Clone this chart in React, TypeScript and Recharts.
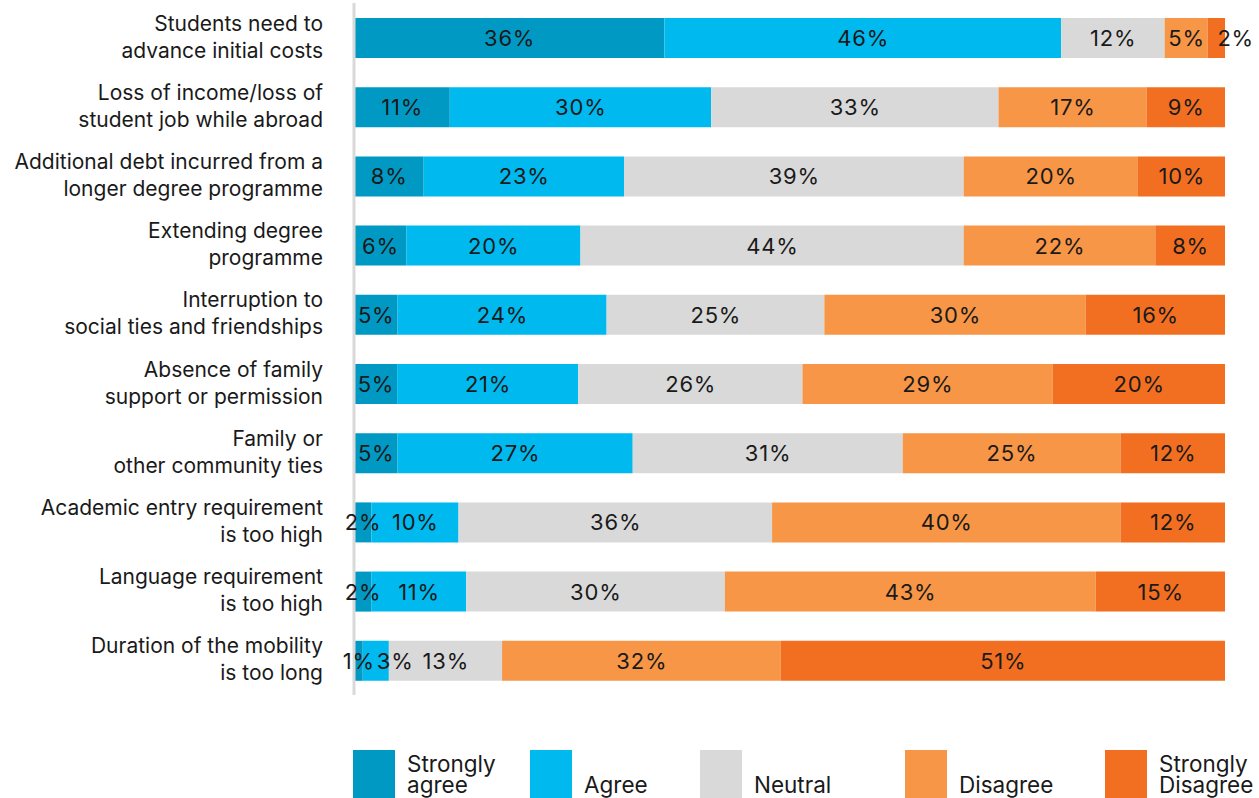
import { BarChart, Bar, XAxis, YAxis, LabelList } from 'recharts';

const categories = [
  'Students need to\nadvance initial costs',
  'Loss of income/loss of\nstudent job while abroad',
  'Additional debt incurred from a\nlonger degree programme',
  'Extending degree\nprogramme',
  'Interruption to\nsocial ties and friendships',
  'Absence of family\nsupport or permission',
  'Family or\nother community ties',
  'Academic entry requirement\nis too high',
  'Language requirement\nis too high',
  'Duration of the mobility\nis too long',
];

const stronglyAgree = [36, 11, 8, 6, 5, 5, 5, 2, 2, 1];
const agree = [46, 30, 23, 20, 24, 21, 27, 10, 11, 3];
const neutral = [12, 33, 39, 44, 25, 26, 31, 36, 30, 13];
const disagree = [5, 17, 20, 22, 30, 29, 25, 40, 43, 32];
const stronglyDisagree = [2, 9, 10, 8, 16, 20, 12, 12, 15, 51];

const seriesNames = ['Strongly\nagree', 'Agree', 'Neutral', 'Disagree', 'Strongly\nDisagree'];
const seriesKeys = ['sa', 'a', 'n', 'd', 'sd'];
const colors = ['#0099c4', '#00b9ef', '#d9d9d9', '#f79646', '#f26f21'];

const data = categories.map((name, i) => ({
  name,
  sa: stronglyAgree[i],
  a: agree[i],
  n: neutral[i],
  d: disagree[i],
  sd: stronglyDisagree[i],
}));

const FONT = 'Inter, "Noto Sans", sans-serif';

function CategoryTick(props: any) {
  const { x, y, payload } = props;
  const lines = String(payload.value).split('\n');
  return (
    <text x={x - 23} y={y} textAnchor="end" fill="#1a1a1a" fontSize={21} fontFamily={FONT}>
      {lines.map((line, i) => (
        <tspan key={i} x={x - 23} y={y - 7 + i * 27}>
          {line}
        </tspan>
      ))}
    </text>
  );
}

// narrow segments after the first get their label pushed to the right
function makeLabel(seriesIdx: number) {
  return (props: any) => {
    const { x, y, width, height, value } = props;
    const narrow = seriesIdx > 0 && width < 30;
    const cx = x + width / 2;
    return (
      <text
        x={narrow ? cx + 1 : cx + 0.4}
        y={y + height / 2}
        textAnchor={narrow ? 'start' : 'middle'}
        dominantBaseline="central"
        fill="#1a1a1a"
        fontSize={22}
        letterSpacing={0.8}
        fontFamily={FONT}
      >
        {`${value}%`}
      </text>
    );
  };
}

const legendLeft = [353, 530, 700, 905, 1105];

export default function App() {
  return (
    <div style={{ position: 'absolute', left: 0, top: 0, width: 1259, height: 798, overflow: 'hidden', background: '#fff' }}>
      <BarChart
        width={1259}
        height={798}
        data={data}
        layout="vertical"
        stackOffset="expand"
        margin={{ top: 3, right: 34, bottom: 103, left: 0 }}
      >
        <XAxis type="number" domain={[0, 1]} hide />
        <YAxis
          type="category"
          dataKey="name"
          width={354}
          tickLine={false}
          axisLine={{ stroke: '#d9d9d9', strokeWidth: 3 }}
          tick={<CategoryTick />}
          interval={0}
        />
        {seriesKeys.map((k, i) => (
          <Bar key={k} dataKey={k} stackId="s" fill={colors[i]} barSize={40} isAnimationActive={false}>
            <LabelList dataKey={k} content={makeLabel(i)} />
          </Bar>
        ))}
      </BarChart>
      {seriesNames.map((name, i) => (
        <div
          key={name}
          style={{ position: 'absolute', left: legendLeft[i], top: 750, display: 'flex', alignItems: 'flex-end', fontFamily: FONT, fontSize: 22.5, lineHeight: '21px', color: '#1a1a1a' }}
        >
          <div style={{ width: 42, height: 48, background: colors[i], marginRight: 12 }} />
          <div style={{ whiteSpace: 'pre', marginBottom: 3 }}>{name}</div>
        </div>
      ))}
    </div>
  );
}
